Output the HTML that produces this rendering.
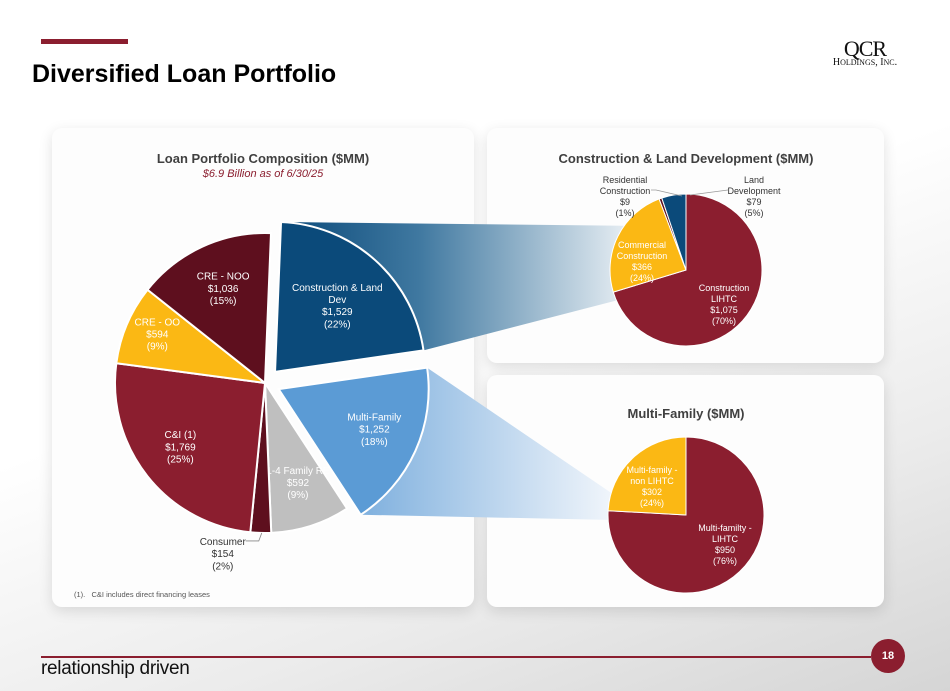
<!DOCTYPE html>
<html><head><meta charset="utf-8">
<style>
body{margin:0;width:950px;height:691px;overflow:hidden;font-family:"Liberation Sans",sans-serif;}
#page{position:relative;width:950px;height:691px;background:linear-gradient(160deg,#ffffff 0%,#ffffff 45%,#ebebeb 75%,#d5d5d5 100%);}
.card{position:absolute;background:#fdfdfd;border-radius:10px;box-shadow:0 4px 14px rgba(0,0,0,0.12);}
svg{position:absolute;left:0;top:0;}
</style></head><body>
<div id="page">
<div style="position:absolute;left:41px;top:39px;width:87px;height:5px;background:#8b1e2f"></div>
<div style="position:absolute;left:32px;top:60px;font-size:25px;font-weight:bold;color:#000">Diversified Loan Portfolio</div>
<div style="position:absolute;left:820px;top:38px;width:90px;text-align:center;font-family:'Liberation Serif',serif;color:#111;line-height:1">
<div style="font-size:22px;letter-spacing:-1px">QCR</div><div style="font-size:10px;margin-top:-2px">H<span style="font-size:8px">OLDINGS</span>, I<span style="font-size:8px">NC</span>.</div></div>
<div class="card" style="left:52px;top:128px;width:422px;height:479px"></div>
<div class="card" style="left:487px;top:128px;width:397px;height:235px"></div>
<div class="card" style="left:487px;top:375px;width:397px;height:232px"></div>
<div style="position:absolute;left:41px;top:656px;width:830px;height:2px;background:#8b1e2f"></div>
<div style="position:absolute;left:871px;top:639px;width:34px;height:34px;border-radius:50%;background:#8b1e2f;color:#fff;font-size:11px;font-weight:bold;text-align:center;line-height:34px">18</div>
<div style="position:absolute;left:41px;top:658px;font-size:19px;color:#111;letter-spacing:-0.3px">relationship driven</div>
<div style="position:absolute;left:74px;top:590px;font-size:7.5px;color:#555">(1).&nbsp;&nbsp; C&amp;I includes direct financing leases</div>
<svg id="chart" width="950" height="691">
<defs>
<linearGradient id="gBlue" x1="0" x2="1" y1="0" y2="0"><stop offset="0" stop-color="#0b4a7a"/><stop offset="0.4" stop-color="#3f78a0"/><stop offset="1" stop-color="#e4ecf2"/></linearGradient>
<linearGradient id="gLight" x1="0" x2="1" y1="0" y2="0"><stop offset="0" stop-color="#7fb0de"/><stop offset="1" stop-color="#f0f5fb"/></linearGradient>
</defs>
</svg>
</div>
<script>
const mainLabels=["Construction & Land Dev","Multi-Family","1-4 Family RE","Consumer","C&I (1)","CRE - OO","CRE - NOO"];
const mainValues=[1529,1252,592,154,1769,594,1036];
const mainPct=["22%","18%","9%","2%","25%","9%","15%"];
const clLabels=["Construction LIHTC","Commercial Construction","Residential Construction","Land Development"];
const clValues=[1075,366,9,79];
const clPct=["70%","24%","1%","5%"];
const mfLabels=["Multi-family - LIHTC","Multi-family - non LIHTC"];
const mfValues=[950,302];
const mfPct=["76%","24%"];

const NS="http://www.w3.org/2000/svg";
const svg=document.getElementById('chart');
function mk(tag,attrs,parent){const e=document.createElementNS(NS,tag);for(const k in attrs)e.setAttribute(k,attrs[k]);(parent||svg).appendChild(e);return e;}
function pt(cx,cy,r,a){return [cx+r*Math.sin(a),cy-r*Math.cos(a)];}
function arcPath(cx,cy,r,a0,a1){const p0=pt(cx,cy,r,a0),p1=pt(cx,cy,r,a1);const lg=(a1-a0)>Math.PI?1:0;
return `M${cx},${cy}L${p0[0]},${p0[1]}A${r},${r} 0 ${lg} 1 ${p1[0]},${p1[1]}Z`;}
function angles(vals,start){const t=vals.reduce((a,b)=>a+b,0);let a=start;return vals.map(v=>{const a0=a;a+=v/t*2*Math.PI;return [a0,a];});}
function fmt(v){return "$"+v.toLocaleString("en-US");}
function label(x,y,lines,color,size,name){const t=mk('text',{x:x,y:y,'text-anchor':'middle','font-size':size,fill:color,'font-family':'Liberation Sans, sans-serif'});


lines.forEach((l,i)=>{const s=mk('tspan',{x:x,dy:i?size*1.22:0},t);s.textContent=l;});return t;}

label(263,163,["Loan Portfolio Composition ($MM)"],"#404040",13,"main-chart-title").setAttribute('font-weight','bold');
label(263,177,["$6.9 Billion as of 6/30/25"],"#8b1e2f",11,"main-chart-subtitle").setAttribute('font-style','italic');
label(686,163,["Construction & Land Development ($MM)"],"#404040",13,"construction-chart-title").setAttribute('font-weight','bold');
label(686,418,["Multi-Family ($MM)"],"#404040",13,"multifamily-chart-title").setAttribute('font-weight','bold');

const MC=[265,383],MR=150;
const mainColors=["#0b4a7a","#5b9bd5","#bfbfbf","#5e0f1e","#8b1e2f","#fbb814","#5e0f1e"];
const mainAng=angles(mainValues,0.04);
const explode=[15,15,0,0,0,0,0];
const C1=[686,270],R1=76,C2=[686,515],R2=78;
const a1=angles(clValues,0),a2=angles(mfValues,0);
{const [s,e]=mainAng[0];const o=pt(0,0,explode[0],(s+e)/2);
const p0=pt(MC[0]+o[0],MC[1]+o[1],MR,s),p1=pt(MC[0]+o[0],MC[1]+o[1],MR,e);
const q0=pt(C1[0],C1[1],R1,-0.95),q1=pt(C1[0],C1[1],R1,4.3);
const c=mk('path',{d:`M${p0[0]},${p0[1]}L${q0[0]},${q0[1]}L${q1[0]},${q1[1]}L${p1[0]},${p1[1]}Z`,fill:'url(#gBlue)'});

}
{const [s,e]=mainAng[1];const o=pt(0,0,explode[1],(s+e)/2);
const p0=pt(MC[0]+o[0],MC[1]+o[1],MR,s),p1=pt(MC[0]+o[0],MC[1]+o[1],MR,e);
const q0=pt(C2[0],C2[1],R2,5.0),q1=pt(C2[0],C2[1],R2,4.65);
const c=mk('path',{d:`M${p0[0]},${p0[1]}L${q0[0]},${q0[1]}L${q1[0]},${q1[1]}L${p1[0]},${p1[1]}Z`,fill:'url(#gLight)'});

}

mainValues.forEach((v,i)=>{const [s,e]=mainAng[i];const o=pt(0,0,explode[i],(s+e)/2);
const cx=MC[0]+o[0],cy=MC[1]+o[1];
const p=mk('path',{d:arcPath(cx,cy,MR,s,e),fill:mainColors[i],stroke:'#fff','stroke-width':2});


const mid=(s+e)/2;let lr=[0.62,0.7,0.72,0,0.72,0.78,0.67][i];
let lines;
if(i===0)lines=["Construction & Land","Dev",fmt(v),"("+mainPct[i]+")"];else lines=[mainLabels[i],fmt(v),"("+mainPct[i]+")"];
if(i===3){const q=pt(cx,cy,MR,mid);label(q[0]-38,q[1]+12,lines,"#333",10,"label-consumer");
mk('path',{d:`M${q[0]-15},${q[1]+8}L${q[0]-2},${q[1]+8}L${q[0]+1},${q[1]}`,stroke:'#888',fill:'none','stroke-width':0.8});}
else{const q=pt(cx,cy,MR*lr,mid);label(q[0],q[1]-12,lines,"#fff",10,"label-"+mainLabels[i].toLowerCase().replace(/[^a-z0-9]+/g,'-'));}
});

const clColors=["#8b1e2f","#fbb814","#5e0f1e","#0b4a7a"];
clValues.forEach((v,i)=>{const [s,e]=a1[i];const p=mk('path',{d:arcPath(C1[0],C1[1],R1,s,e),fill:clColors[i],stroke:'#fff','stroke-width':1});

});
label(724,291,["Construction","LIHTC",fmt(clValues[0]),"("+clPct[0]+")"],"#fff",9,"label-construction-lihtc");
label(642,248,["Commercial","Construction",fmt(clValues[1]),"("+clPct[1]+")"],"#fff",9,"label-commercial-construction");
label(625,183,["Residential","Construction",fmt(clValues[2]),"("+clPct[2]+")"],"#333",9,"label-residential-construction");
label(754,183,["Land","Development",fmt(clValues[3]),"("+clPct[3]+")"],"#333",9,"label-land-development");
mk('path',{d:'M651,190L656,190L682,196',stroke:'#999',fill:'none','stroke-width':0.7});
mk('path',{d:'M728,190L690,195',stroke:'#999',fill:'none','stroke-width':0.7});

const mfColors=["#8b1e2f","#fbb814"];
mfValues.forEach((v,i)=>{const [s,e]=a2[i];const p=mk('path',{d:arcPath(C2[0],C2[1],R2,s,e),fill:mfColors[i],stroke:'#fff','stroke-width':1});

});
label(725,531,["Multi-familty -","LIHTC",fmt(mfValues[0]),"("+mfPct[0]+")"],"#fff",9,"label-mf-lihtc");
label(652,473,["Multi-family -","non LIHTC",fmt(mfValues[1]),"("+mfPct[1]+")"],"#fff",9,"label-mf-non-lihtc");
</script>
</body></html>
